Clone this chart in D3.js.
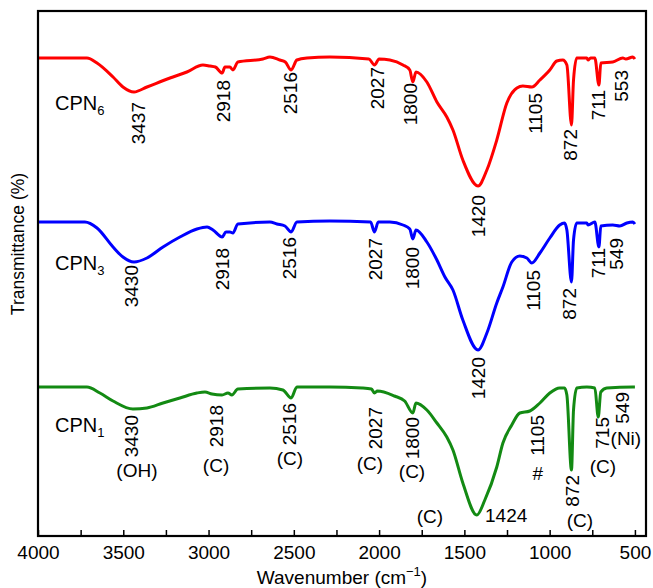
<!DOCTYPE html>
<html>
<head>
<meta charset="utf-8">
<script src="https://cdn.jsdelivr.net/npm/d3@7/dist/d3.min.js"></script>
<style>
  html, body { margin: 0; padding: 0; background: #fff; }
  svg { display: block; font-family: "Liberation Sans", Arial, sans-serif; }
</style>
</head>
<body>
<svg id="chart" width="653" height="588"></svg>
<script>
// ---- data: [wavenumber (cm-1), transmittance (a.u., offset)] ----
const cpn6 = [
  [4000,478],[3713,478],[3654,473],[3560,459],[3502,449],[3437,444],[3361,449],[3226,458],
  [3127,464],[3033,471],[2992,470],[2960,469],[2920,463],[2904,469],[2875,469],[2857,466],
  [2828,474],[2681,477],[2640,479],[2582,476],[2550,474],[2516,466],[2482,476],[2423,478],
  [2289,479],[2060,477],[2027,471],[2000,477],[1937,476],[1860,471],[1820,466],[1802,454],
  [1784,464],[1720,454],[1661,434],[1603,419],[1567,406],[1509,376],[1420,350],[1368,366],
  [1310,396],[1251,433],[1192,448],[1157,450],[1104,449],[1057,456],[999,466],[958,475],
  [923,476],[899,471],[872,411],[860,456],[841,478],[782,478],[775,476],[760,478],[735,478],
  [711,451],[700,473],[630,474],[571,478],[553,477],[512,479],[500,477]
];
const cpn3 = [
  [4000,314],[3725,314],[3654,308],[3560,289],[3502,279],[3437,274],[3361,278],[3267,289],
  [3168,299],[3068,307],[3009,309],[2974,306],[2920,299],[2898,304],[2875,304],[2857,303],
  [2828,312],[2640,314],[2599,312],[2552,310],[2516,304],[2482,314],[2289,315],[2050,314],
  [2027,304],[2005,314],[1937,314],[1860,311],[1820,307],[1802,297],[1784,306],[1720,294],
  [1661,276],[1614,259],[1567,246],[1509,216],[1420,186],[1368,203],[1310,233],[1274,249],
  [1222,274],[1175,280],[1134,278],[1105,273],[1057,283],[999,298],[941,311],[913,313],
  [899,306],[872,254],[860,296],[841,313],[782,313],[775,311],[735,314],[711,289],[700,310],
  [630,311],[588,310],[547,313],[512,314],[500,312]
];
const cpn1 = [
  [4000,149],[3713,149],[3637,143],[3560,135],[3443,127],[3361,128],[3267,133],[3168,138],
  [3068,143],[3021,144],[2980,142],[2921,141],[2886,143],[2863,141],[2828,147],[2640,148],
  [2564,146],[2516,138],[2482,149],[2289,149],[2100,148],[2045,147],[2027,143],[2010,145],
  [1910,140],[1850,135],[1802,123],[1784,133],[1720,126],[1661,113],[1603,99],[1567,86],
  [1509,53],[1427,21],[1380,36],[1310,69],[1274,93],[1222,111],[1175,123],[1116,125],
  [1057,133],[999,143],[941,148],[913,148],[899,141],[872,66],[860,126],[841,148],[782,149],
  [735,148],[715,119],[700,144],[665,148],[512,149],[500,149]
];
const seriesNames = ["CPN6", "CPN3", "CPN1"];
const seriesSub = ["6", "3", "1"];
const seriesColors = ["#ff0000", "#0000ff", "#138a13"];
const xTickLabels = [4000, 3500, 3000, 2500, 2000, 1500, 1000, 500];
const xMinorTicks = [4000,3750,3500,3250,3000,2750,2500,2250,2000,1750,1500,1250,1000,750,500];

// peak annotations: [text, wavenumber, value] (rotated, top of text)
const peaksCPN6 = [["3437",3408,434],["2918",2910,456],["2516",2517,464],["2027",2007,469],
  ["1800",1813,453],["1420",1415,341],["1105",1080,443],["872",875,407],["711",711,446],["553",576,466]];
const peaksCPN3 = [["3430",3449,271],["2918",2921,288],["2516",2528,299],["2027",2024,298],
  ["1800",1807,289],["1420",1415,179],["1105",1092,266],["872",881,248],["711",711,288],["549",606,298]];
const peaksCPN1 = [["3430",3449,121],["2918",2956,131],["2516",2523,133],["2027",2024,129],
  ["1800",1807,119],["1105",1069,121],["872",864,61],["715",688,119],["549",570,144]];
// horizontal assignments: [text, wavenumber, value, anchor]
const assignCPN1 = [["(OH)",3420,59,"middle"],["(C)",2956,64,"middle"],["(C)",2523,71,"middle"],
  ["(C)",2054,66,"middle"],["(C)",1807,58,"middle"],["#",1069,56,"middle"],["(C)",1702,13,"middle"],
  ["1424",1379,14,"start"],["(C)",822,9,"middle"],["(C)",688,63,"middle"],["(Ni)",553,91,"middle"]];
const seriesLabelPos = [[3900,426],[3900,266],[3900,104]];

// ---- drawing ----
const svg = d3.select("#chart");
const x = d3.scaleLinear().domain([4000, 435]).range([38, 646]);
const y = d3.scaleLinear().domain([0, 525]).range([536, 11]);

const line = d3.line().x(d => x(d[0])).y(d => y(d[1])).curve(d3.curveMonotoneX);
[cpn6, cpn3, cpn1].forEach((s, i) => {
  svg.append("path").datum(s).attr("d", line)
    .attr("fill", "none").attr("stroke", seriesColors[i])
    .attr("stroke-width", 3).attr("stroke-linejoin", "round");
});

// frame
svg.append("rect").attr("x", x(4000)).attr("y", y(525))
  .attr("width", x(435) - x(4000)).attr("height", y(0) - y(525))
  .attr("fill", "none").attr("stroke", "#000").attr("stroke-width", 2.2);

// x axis
const minorAxis = d3.axisBottom(x).tickValues(xMinorTicks).tickSizeInner(-6).tickSizeOuter(0).tickFormat("");
svg.append("g").attr("transform", `translate(0,${y(0)})`).call(minorAxis)
  .call(g => g.select(".domain").remove())
  .call(g => g.selectAll("line").attr("stroke-width", 1.5));
const xAxis = d3.axisBottom(x).tickValues(xTickLabels).tickSizeInner(0).tickSizeOuter(0).tickPadding(10).tickFormat(d3.format("d"));
svg.append("g").attr("transform", `translate(0,${y(0)})`).call(xAxis)
  .call(g => g.select(".domain").remove())
  .call(g => g.selectAll("text").attr("font-size", 19).attr("fill", "#000")
    .attr("font-family", "Liberation Sans, Arial, sans-serif"));

// axis titles
const xt = svg.append("text").attr("x", 342).attr("y", 584).attr("text-anchor", "middle")
  .attr("font-size", 19).attr("fill", "#000");
xt.append("tspan").text("Wavenumber (cm");
xt.append("tspan").attr("font-size", 13).attr("dy", -8).text("\u22121");
xt.append("tspan").attr("dy", 8).text(")");
svg.append("text").attr("transform", "translate(24,244) rotate(-90)").attr("text-anchor", "middle")
  .attr("font-size", 17.5).attr("fill", "#000").text("Transmittance (%)");

// series labels
seriesLabelPos.forEach((p, i) => {
  const t = svg.append("text").attr("x", x(p[0])).attr("y", y(p[1])).attr("font-size", 20).attr("fill", "#000");
  t.append("tspan").text("CPN");
  t.append("tspan").attr("font-size", 13).attr("dy", 5).text(seriesSub[i]);
});

// rotated peak labels
[peaksCPN6, peaksCPN3, peaksCPN1].forEach(arr => {
  arr.forEach(p => {
    svg.append("text")
      .attr("transform", `translate(${x(p[1])},${y(p[2])}) rotate(-90)`)
      .attr("text-anchor", "end").attr("dominant-baseline", "central")
      .attr("font-size", 19).attr("fill", "#000").text(p[0]);
  });
});
// horizontal assignments
assignCPN1.forEach(p => {
  svg.append("text").attr("x", x(p[1])).attr("y", y(p[2])).attr("text-anchor", p[3])
    .attr("font-size", 19).attr("fill", "#000").text(p[0]);
});
</script>
</body>
</html>
